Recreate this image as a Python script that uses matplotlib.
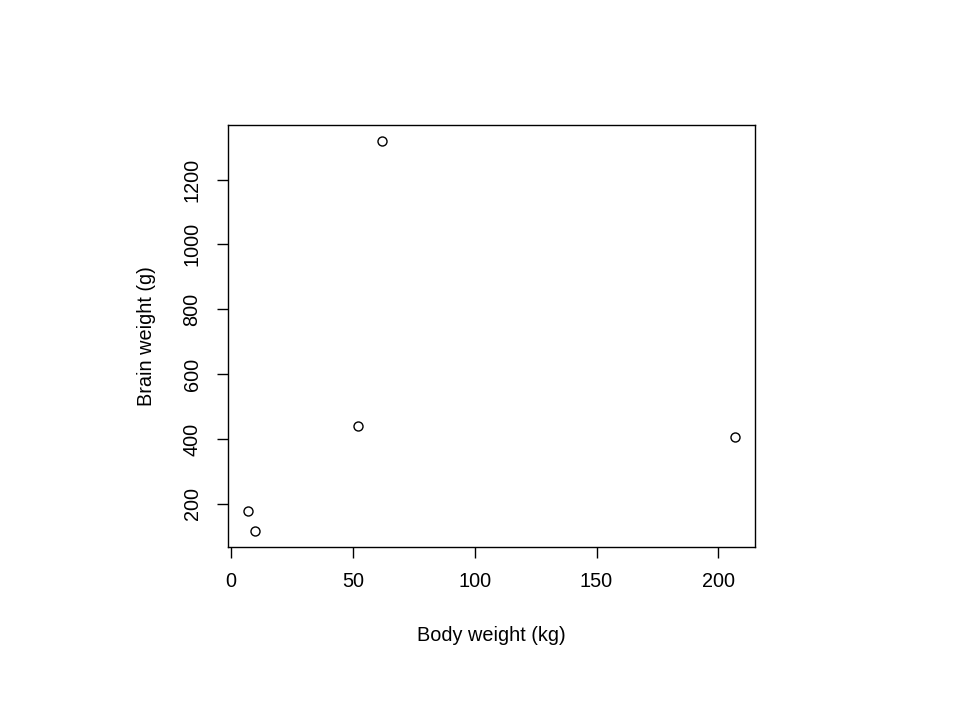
import matplotlib
matplotlib.use('Agg')
import matplotlib.pyplot as plt

# MASS::mammals subset (primates)
animals = ['Rhesus monkey', 'Potar monkey', 'Chimpanzee', 'Human', 'Gorilla']
body_kg = [6.8, 10.0, 52.16, 62.0, 207.0]
brain_g = [179, 115, 440, 1320, 406]

plt.rcParams['font.family'] = ['Liberation Sans', 'DejaVu Sans']

fig = plt.figure(figsize=(9.6, 7.2), dpi=100)
ax = fig.add_axes([228 / 960, 1 - 547 / 720, (755 - 228) / 960, (547 - 125) / 720])

ax.plot(body_kg, brain_g, 'o', mfc='none', mec='black', ms=6.5, mew=1.0)

# R style 4% range extension
xr = max(body_kg) - min(body_kg)
yr = max(brain_g) - min(brain_g)
ax.set_xlim(min(body_kg) - 0.04 * xr, max(body_kg) + 0.04 * xr)
ax.set_ylim(min(brain_g) - 0.04 * yr, max(brain_g) + 0.04 * yr)

ax.set_xticks([0, 50, 100, 150, 200])
ax.set_yticks([200, 400, 600, 800, 1000, 1200])
ax.tick_params(direction='out', length=8, width=1, labelsize=14.3, pad=10)
ax.tick_params(axis='y', pad=11)
for lab in ax.get_yticklabels():
    lab.set_rotation(90)
    lab.set_va('center')

for s in ax.spines.values():
    s.set_linewidth(1)

ax.set_xlabel('Body weight (kg)', fontsize=14.3, labelpad=25)
ax.set_ylabel('Brain weight (g)', fontsize=14.3, labelpad=19)

fig.savefig('out.png', dpi=100)
